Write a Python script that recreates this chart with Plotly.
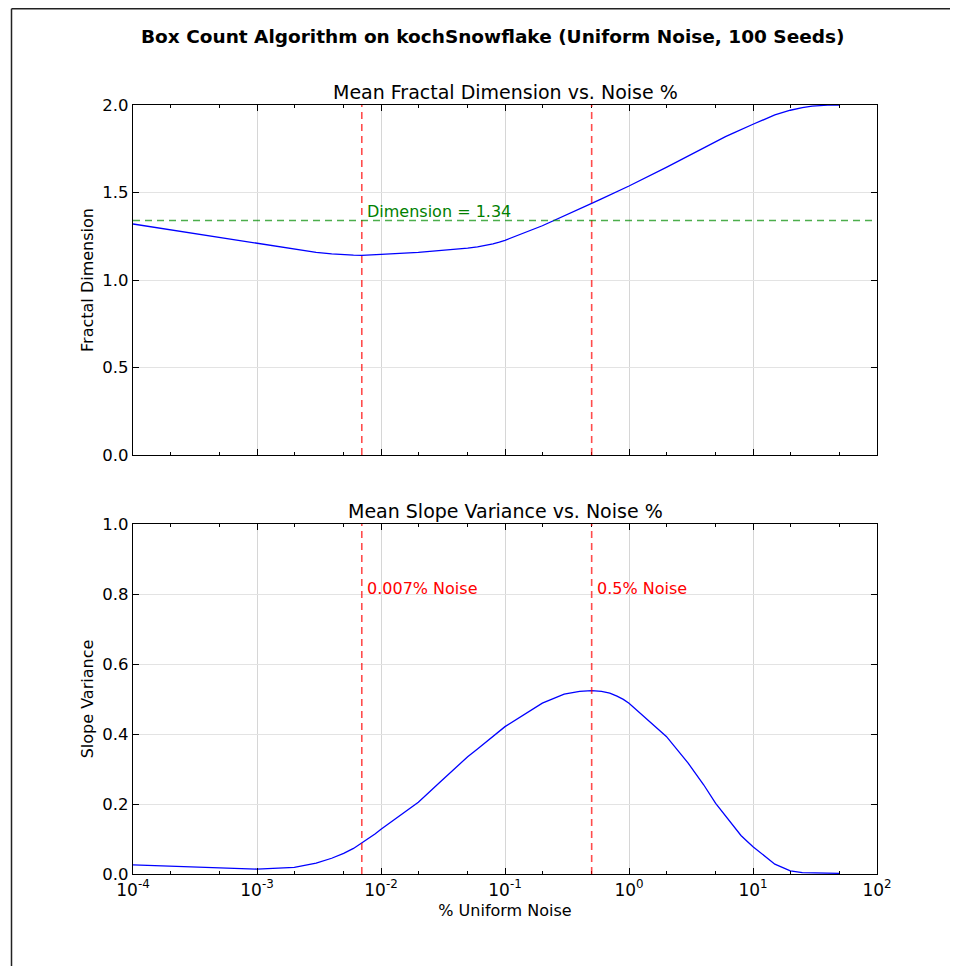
import math
import plotly.graph_objects as go

# ---- data ----
noise_pct = [0.0001, 0.001, 0.002, 0.003, 0.004, 0.005, 0.006, 0.007, 0.008, 0.009,
             0.01, 0.02, 0.03, 0.04, 0.05, 0.06, 0.07, 0.08, 0.09,
             0.1, 0.2, 0.3, 0.4, 0.5, 0.6, 0.7, 0.8, 0.9,
             1, 2, 3, 4, 5, 6, 7, 8, 9,
             10, 15, 20, 25, 30, 40, 50]
fractal_dim = [1.32, 1.21, 1.175, 1.158, 1.149, 1.144, 1.142, 1.141, 1.142, 1.144,
               1.147, 1.158, 1.167, 1.175, 1.182, 1.189, 1.197, 1.206, 1.216,
               1.227, 1.310, 1.365, 1.404, 1.438, 1.464, 1.486, 1.505, 1.522,
               1.537, 1.644, 1.710, 1.757, 1.794, 1.819, 1.841, 1.860, 1.876,
               1.890, 1.943, 1.970, 1.985, 1.993, 1.999, 2.0]
slope_var = [0.026, 0.014, 0.019, 0.031, 0.045, 0.059, 0.073, 0.088, 0.102, 0.115,
             0.128, 0.205, 0.263, 0.305, 0.335, 0.357, 0.376, 0.392, 0.407,
             0.421, 0.488, 0.514, 0.522, 0.524, 0.522, 0.517, 0.508, 0.499,
             0.488, 0.393, 0.317, 0.255, 0.202, 0.165, 0.135, 0.110, 0.093,
             0.078, 0.028, 0.009, 0.004, 0.003, 0.002, 0.002]
known_dim = 1.34
noise_marks = [0.007, 0.5]
noise_mark_labels = ["0.007% Noise", "0.5% Noise"]
x_tickvals = [1e-4, 1e-3, 1e-2, 1e-1, 1e0, 1e1, 1e2]
x_ticktext = ["10<sup>-4</sup>", "10<sup>-3</sup>", "10<sup>-2</sup>", "10<sup>-1</sup>",
              "10<sup>0</sup>", "10<sup>1</sup>", "10<sup>2</sup>"]

FONT = "DejaVu Sans"
fig = go.Figure()

fig.add_trace(go.Scatter(x=noise_pct, y=fractal_dim, mode="lines",
                         line=dict(color="#0000ff", width=1.3), xaxis="x", yaxis="y",
                         showlegend=False))
fig.add_trace(go.Scatter(x=noise_pct, y=slope_var, mode="lines",
                         line=dict(color="#0000ff", width=1.3), xaxis="x2", yaxis="y2",
                         showlegend=False))

# vertical noise markers
for xr, yr in (("x", "y"), ("x2", "y2")):
    for nm in noise_marks:
        fig.add_shape(type="line", xref=xr, yref=yr + " domain", x0=nm, x1=nm, y0=0, y1=1,
                      line=dict(color="rgba(255,0,0,0.7)", width=1.6, dash="7px,5px"))
# horizontal known dimension
fig.add_shape(type="line", xref="x domain", yref="y", x0=0, x1=1, y0=known_dim, y1=known_dim,
              line=dict(color="rgba(0,140,0,0.7)", width=1.6, dash="7px,5px"))

annotations = [
    dict(text="<b>Box Count Algorithm on kochSnowflake (Uniform Noise, 100 Seeds)</b>",
         xref="paper", yref="paper", x=(493 - 133) / 744, y=(874 - 36) / 769,
         xanchor="center", yanchor="middle",
         showarrow=False, font=dict(family=FONT, size=18.5, color="black")),
    dict(text="Mean Fractal Dimension vs. Noise %", xref="paper", yref="paper",
         x=0.5, y=(874 - 92) / 769, xanchor="center", yanchor="middle", showarrow=False,
         font=dict(family=FONT, size=19, color="black")),
    dict(text="Mean Slope Variance vs. Noise %", xref="paper", yref="paper",
         x=0.5, y=(874 - 511) / 769, xanchor="center", yanchor="middle", showarrow=False,
         font=dict(family=FONT, size=19, color="black")),
    dict(text="Dimension = %.2f" % known_dim, xref="x", yref="y",
         x=math.log10(noise_marks[0] * 1.06), y=1.389, xanchor="left", yanchor="middle",
         showarrow=False, font=dict(family=FONT, size=16, color="green")),
]
for nm, lab in zip(noise_marks, noise_mark_labels):
    annotations.append(dict(text=lab, xref="x2", yref="y2", x=math.log10(nm * 1.06), y=0.815,
                            xanchor="left", yanchor="middle", showarrow=False,
                            font=dict(family=FONT, size=16, color="red")))

# outer border lines (top & left); page is offset by the 8px body margin
bx0 = (11.5 - 133) / 744
by_top = (874 - 8.8) / 769
fig.add_shape(type="line", xref="paper", yref="paper", x0=bx0, x1=(958 - 133) / 744 + 0.01,
              y0=by_top, y1=by_top, line=dict(color="#222222", width=1.5))
fig.add_shape(type="line", xref="paper", yref="paper", x0=bx0, x1=bx0,
              y0=by_top, y1=(874 - 970) / 769, line=dict(color="#222222", width=1.5))

xcommon = dict(type="log", range=[-4, 2], tickvals=x_tickvals, ticktext=x_ticktext,
               showgrid=True, gridcolor="#d6d6d6", gridwidth=1,
               showline=True, linecolor="black", linewidth=1.3, mirror="allticks",
               ticks="inside", ticklen=6, tickcolor="black", zeroline=False,
               minor=dict(ticks="inside", ticklen=3, tickcolor="black", showgrid=False),
               tickfont=dict(family=FONT, size=17, color="black"))
ycommon = dict(showgrid=True, gridcolor="#e3e3e3", gridwidth=1.2, showline=True,
               linecolor="black", linewidth=1.3, mirror="allticks", ticks="inside",
               ticklen=6, tickcolor="black", zeroline=False, tickformat=".1f",
               tickfont=dict(family=FONT, size=16.5, color="black"))

fig.update_layout(
    width=950, height=958,
    margin=dict(l=125, r=81, t=97, b=92),
    paper_bgcolor="white", plot_bgcolor="white",
    font=dict(family=FONT, color="black"),
    xaxis=dict(**xcommon, domain=[0, 1], anchor="y", showticklabels=False),
    yaxis=dict(**ycommon, domain=[(874 - 455) / 769, 1], range=[0, 2], dtick=0.5,
               title=dict(text="Fractal Dimension", font=dict(family=FONT, size=16), standoff=4)),
    xaxis2=dict(**xcommon, domain=[0, 1], anchor="y2",
                title=dict(text="% Uniform Noise", font=dict(family=FONT, size=16), standoff=6)),
    yaxis2=dict(**ycommon, domain=[0, (874 - 524) / 769], range=[0, 1], dtick=0.2,
                title=dict(text="Slope Variance", font=dict(family=FONT, size=16), standoff=4)),
    annotations=annotations,
)

fig.write_html("out.html")
